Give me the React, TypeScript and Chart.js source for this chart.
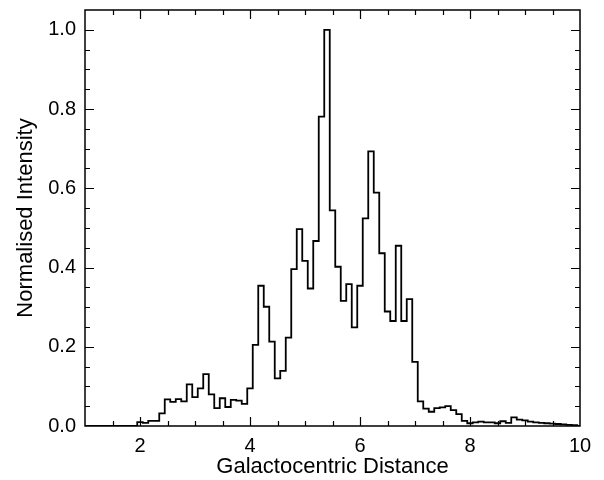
import React, { useEffect, useRef } from "react";
import { Chart, registerables } from "chart.js";

Chart.register(...registerables);

// Histogram bin centres (bin width 0.1) and normalised intensity per bin
const binCenters = [
  2.0, 2.1, 2.2, 2.3, 2.4, 2.5, 2.6, 2.7, 2.8, 2.9,
  3.0, 3.1, 3.2, 3.3, 3.4, 3.5, 3.6, 3.7, 3.8, 3.9,
  4.0, 4.1, 4.2, 4.3, 4.4, 4.5, 4.6, 4.7, 4.8, 4.9,
  5.0, 5.1, 5.2, 5.3, 5.4, 5.5, 5.6, 5.7, 5.8, 5.9,
  6.0, 6.1, 6.2, 6.3, 6.4, 6.5, 6.6, 6.7, 6.8, 6.9,
  7.0, 7.1, 7.2, 7.3, 7.4, 7.5, 7.6, 7.7, 7.8, 7.9,
  8.0, 8.1, 8.2, 8.3, 8.4, 8.5, 8.6, 8.7, 8.8, 8.9,
  9.0, 9.1, 9.2, 9.3, 9.4, 9.5, 9.6, 9.7, 9.8, 9.9,
];

const intensity = [
  0.010, 0.008, 0.013, 0.013, 0.032, 0.067, 0.061, 0.068, 0.062, 0.105,
  0.073, 0.095, 0.131, 0.080, 0.045, 0.070, 0.048, 0.066, 0.064, 0.056,
  0.095, 0.205, 0.354, 0.301, 0.213, 0.120, 0.139, 0.223, 0.396, 0.497,
  0.417, 0.347, 0.467, 0.781, 1.000, 0.544, 0.402, 0.316, 0.358, 0.249,
  0.354, 0.524, 0.693, 0.589, 0.436, 0.289, 0.265, 0.455, 0.265, 0.320,
  0.162, 0.062, 0.044, 0.036, 0.045, 0.047, 0.050, 0.040, 0.030, 0.013,
  0.007, 0.009, 0.011, 0.009, 0.009, 0.007, 0.012, 0.008, 0.022, 0.016,
  0.014, 0.011, 0.009, 0.008, 0.007, 0.006, 0.005, 0.004, 0.003, 0.002,
];

const binWidth = 0.1;
const xMin = 1;
const xMax = 10;
const yMin = 0;
const yMax = 1.05;
const xMajorTicks = [2, 4, 6, 8, 10];
const xMinorStep = 0.5;
const yMajorTicks = [0.0, 0.2, 0.4, 0.6, 0.8, 1.0];
const yMinorStep = 0.05;

const xTitle = "Galactocentric Distance";
const yTitle = "Normalised Intensity";

const FONT = "'Liberation Sans', Arial, Helvetica, sans-serif";

const r3 = (v: number) => Math.round(v * 1000) / 1000;

// Points at left bin edges; each value is held until the next edge
function buildStepPoints() {
  const pts: { x: number; y: number }[] = [{ x: xMin, y: 0 }];
  binCenters.forEach((c, i) => {
    pts.push({ x: r3(c - binWidth / 2), y: intensity[i] });
  });
  const last = binCenters[binCenters.length - 1];
  pts.push({ x: r3(last + binWidth / 2), y: 0 });
  pts.push({ x: xMax, y: 0 });
  return pts;
}

const frameTicksPlugin = {
  id: "frameTicks",
  afterDatasetsDraw(chart: any) {
    const { ctx, chartArea } = chart;
    const { left, right, top, bottom } = chartArea;
    const xs = chart.scales.x;
    const ys = chart.scales.y;
    const majorLen = 9;
    const minorLen = 5;
    ctx.save();
    ctx.strokeStyle = "#000";
    ctx.lineWidth = 1.5;
    ctx.beginPath();
    ctx.rect(left, top, right - left, bottom - top);
    ctx.stroke();
    ctx.lineWidth = 1.2;
    ctx.beginPath();
    for (let v = xMin; v <= xMax + 1e-9; v += xMinorStep) {
      const vv = r3(v);
      if (vv <= xMin || vv >= xMax) continue;
      const isMajor = xMajorTicks.some((m) => Math.abs(m - vv) < 1e-6);
      const len = isMajor ? majorLen : minorLen;
      const px = Math.round(xs.getPixelForValue(vv)) + 0.5;
      ctx.moveTo(px, bottom);
      ctx.lineTo(px, bottom - len);
      ctx.moveTo(px, top);
      ctx.lineTo(px, top + len);
    }
    for (let v = yMin; v <= yMax + 1e-9; v += yMinorStep) {
      const vv = r3(v);
      if (vv <= yMin || vv >= yMax) continue;
      const isMajor = yMajorTicks.some((m) => Math.abs(m - vv) < 1e-6);
      const len = isMajor ? majorLen : minorLen;
      const py = Math.round(ys.getPixelForValue(vv)) + 0.5;
      ctx.moveTo(left, py);
      ctx.lineTo(left + len, py);
      ctx.moveTo(right, py);
      ctx.lineTo(right - len, py);
    }
    ctx.stroke();
    ctx.restore();
  },
};

export default function App() {
  const canvasRef = useRef<HTMLCanvasElement | null>(null);

  useEffect(() => {
    if (!canvasRef.current) return;
    const chart = new Chart(canvasRef.current, {
      type: "line",
      data: {
        datasets: [
          {
            data: buildStepPoints(),
            stepped: "before",
            borderColor: "#000",
            borderWidth: 1.8,
            pointRadius: 0,
            fill: false,
            tension: 0,
          },
        ],
      },
      options: {
        responsive: false,
        animation: false,
        events: [],
        layout: { padding: { top: 10, right: 24, left: 0, bottom: 0 } },
        plugins: {
          legend: { display: false },
          tooltip: { enabled: false },
        },
        scales: {
          x: {
            type: "linear",
            min: xMin,
            max: xMax,
            grid: { display: false, drawTicks: false },
            border: { display: false },
            afterBuildTicks: (scale: any) => {
              scale.ticks = xMajorTicks.map((v) => ({ value: v }));
            },
            afterFit: (scale: any) => {
              scale.height = 54;
              scale.paddingLeft = 0;
              scale.paddingRight = 0;
            },
            ticks: {
              color: "#000",
              padding: 8,
              maxRotation: 0,
              autoSkip: false,
              font: { family: FONT, size: 20 },
              callback: (v: any) => String(v),
            },
            title: {
              display: true,
              text: xTitle,
              color: "#000",
              font: { family: FONT, size: 22 },
              padding: { top: 0, bottom: 0 },
            },
          },
          y: {
            type: "linear",
            min: yMin,
            max: yMax,
            grid: { display: false, drawTicks: false },
            border: { display: false },
            afterBuildTicks: (scale: any) => {
              scale.ticks = yMajorTicks.map((v) => ({ value: v }));
            },
            afterFit: (scale: any) => {
              scale.width = 85;
              scale.paddingTop = 0;
              scale.paddingBottom = 0;
            },
            ticks: {
              color: "#000",
              padding: 9,
              autoSkip: false,
              font: { family: FONT, size: 20 },
              callback: (v: any) => Number(v).toFixed(1),
            },
            title: {
              display: true,
              text: yTitle,
              color: "#000",
              font: { family: FONT, size: 22 },
              padding: { top: 13, bottom: 0 },
            },
          },
        },
      },
      plugins: [frameTicksPlugin],
    } as any);
    return () => chart.destroy();
  }, []);

  return (
    <div style={{ position: "fixed", left: 0, top: 0, width: 604, height: 480, background: "#fff" }}>
      <canvas ref={canvasRef} width={604} height={480} style={{ display: "block" }} />
    </div>
  );
}
